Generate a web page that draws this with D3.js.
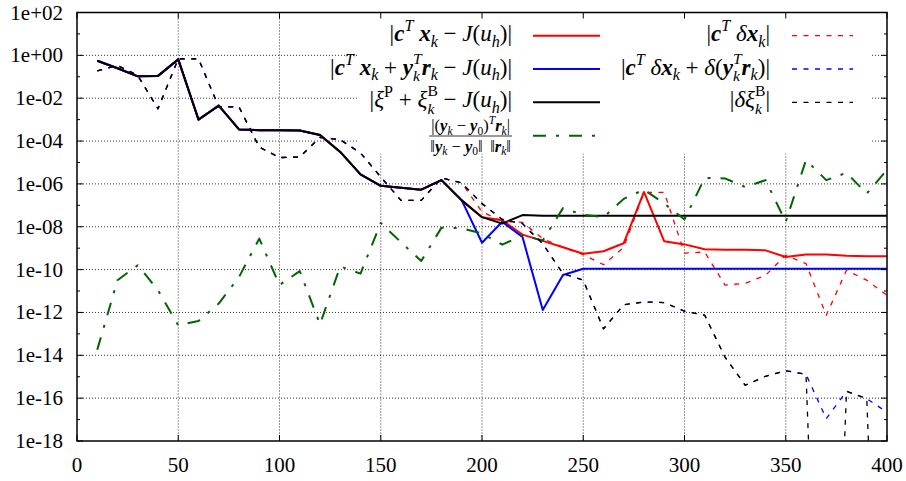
<!DOCTYPE html>
<html>
<head>
<meta charset="utf-8">
<script src="https://cdn.jsdelivr.net/npm/d3@7"></script>
<style>
    body { margin: 0; background: #fff; }
    text { font-family: "Liberation Serif", "Times New Roman", serif; fill: #000; }
</style>
</head>
<body>
<svg id="chart" width="906" height="481"></svg>
<script>
// iteraciones (eje x)
const iterations = [10, 20, 30, 40, 50, 60, 70, 80, 90, 100, 110, 120, 130, 140, 150, 160, 170, 180, 190, 200,
    210, 220, 230, 240, 250, 260, 270, 280, 290, 300, 310, 320, 330, 340, 350, 360, 370, 380, 390, 400];

// |xi^P + xi^B_k - J(u_h)|  (negro continuo)
const xiErr = [5.6e-1, 2.5e-1, 1.05e-1, 1.1e-1, 6.5e-1, 1.0e-3, 4.5e-3, 3.5e-4, 3.2e-4, 3.2e-4,
    3.1e-4, 1.9e-4, 3.1e-5, 2.8e-6, 8.1e-7, 6.6e-7, 5.4e-7, 1.5e-6, 1.7e-7, 2.8e-8,
    1.4e-8, 3.5e-8, 3.3e-8, 3.3e-8, 3.3e-8, 3.3e-8, 3.3e-8, 3.3e-8, 3.3e-8, 3.3e-8,
    3.3e-8, 3.3e-8, 3.3e-8, 3.3e-8, 3.3e-8, 3.3e-8, 3.3e-8, 3.3e-8, 3.3e-8, 3.3e-8];

// |c^T x_k - J(u_h)|  (rojo continuo), igual al negro hasta 180
const cxErr = xiErr.slice(0, 18).concat([1.7e-7, 2.8e-8, 2.0e-8, 4.3e-9, 2.2e-9, 1.1e-9, 5.5e-10, 7.2e-10, 1.7e-9, 4.2e-7,
    2.1e-9, 1.5e-9, 8.9e-10, 8.5e-10, 8.5e-10, 7.9e-10, 3.9e-10, 5.1e-10, 5.1e-10, 4.4e-10, 4.2e-10, 4.2e-10]);

// |c^T x_k + y_k^T r_k - J(u_h)|  (azul continuo)
const cxyErr = xiErr.slice(0, 18).concat([1.7e-7, 1.8e-9, 1.7e-8, 3.3e-9, 1.3e-12, 5.6e-11,
    1.1e-10, 1.1e-10, 1.1e-10, 1.1e-10, 1.1e-10, 1.1e-10, 1.1e-10, 1.1e-10, 1.1e-10, 1.1e-10,
    1.1e-10, 1.1e-10, 1.1e-10, 1.1e-10, 1.1e-10, 1.1e-10]);

// |(y_k-y_0)^T r_k| / (||y_k-y_0|| ||r_k||)  (verde punto-raya)
const ratio = [1.8e-14, 3.2e-11, 1.6e-10, 1.1e-11, 2.5e-13, 4e-13, 2.6e-12, 4.5e-11, 2.8e-9, 1.9e-11,
    8.5e-11, 2.8e-13, 1.4e-10, 6.5e-11, 1.5e-8, 1.9e-9, 2.5e-10, 9.1e-9, 8.5e-9, 4.8e-9,
    1.45e-9, 4e-9, 2.3e-9, 7.4e-8, 3.6e-8, 2.8e-8, 2.0e-7, 5.4e-7, 1.2e-7, 2.2e-8,
    1.9e-6, 1.8e-6, 7.1e-7, 1.5e-6, 1.7e-8, 1.3e-5, 1.5e-6, 3.3e-6, 3.5e-7, 4.6e-6];

// |delta xi^B_k|  (negro discontinuo); 1e-40 = practicamente cero
const dXi = [1.9e-1, 3.4e-1, 1.15e-1, 3.2e-3, 6.9e-1, 6.9e-1, 3.9e-3, 3.9e-3, 5.2e-5, 1.7e-5,
    1.8e-5, 1.5e-4, 1.15e-4, 2.8e-5, 2.1e-6, 1.7e-7, 1.7e-7, 1.9e-6, 1.1e-6, 1.2e-7,
    2.2e-8, 1.4e-8, 1.6e-9, 6.5e-11, 3.2e-11, 1.7e-13, 2.3e-12, 3.1e-12, 2.9e-12, 1.15e-12,
    7.4e-13, 8.3e-15, 4.0e-16, 1.05e-15, 1.9e-15, 1.3e-15, 1e-40, 2.1e-16, 9.5e-17, 1e-40];

// |c^T delta x_k|  (rojo discontinuo)
const cdx = dXi.slice(0, 19).concat([5e-8, 1.8e-8, 1.6e-8, 2.8e-9, 1.1e-9, 5e-10, 1.7e-10, 1.1e-9, 4e-7, 4e-7,
    5.9e-10, 6.6e-10, 1.9e-11, 2.3e-11, 5.4e-11, 4.7e-10, 1.9e-10, 7.4e-13, 9.3e-11, 3.2e-11, 6.3e-12]);

// |c^T delta x_k + delta(y_k^T r_k)|  (azul discontinuo)
const cdxy = dXi.slice(0, 35).concat([1.3e-15, 1.1e-17, 2.1e-16, 9.5e-17, 2.2e-17]);

// ticks
const xTicks = [0, 50, 100, 150, 200, 250, 300, 350, 400];
const yTicks = [1e-18, 1e-16, 1e-14, 1e-12, 1e-10, 1e-8, 1e-6, 1e-4, 1e-2, 1e0, 1e2];
const yTickLabels = ['1e-18', '1e-16', '1e-14', '1e-12', '1e-10', '1e-08', '1e-06', '1e-04', '1e-02', '1e+00', '1e+02'];
const yMinor = [1e-17, 1e-15, 1e-13, 1e-11, 1e-9, 1e-7, 1e-5, 1e-3, 1e-1, 1e1];

const svg = d3.select('#chart');
const L = 77, R = 887, T = 12.5, B = 441;
const x = d3.scaleLinear().domain([0, 400]).range([L, R]);
const y = d3.scaleLog().domain([1e-18, 1e2]).range([B, T]);

// Grid punteado
const grid = svg.append('g').attr('stroke', '#000').attr('stroke-width', 0.8).attr('stroke-dasharray', '1,2');
grid.selectAll('line.gx').data(xTicks.slice(1, -1)).enter().append('line')
    .attr('x1', d => x(d)).attr('x2', d => x(d)).attr('y1', T).attr('y2', B);
grid.selectAll('line.gy').data(yTicks.slice(1, -1)).enter().append('line')
    .attr('x1', L).attr('x2', R).attr('y1', d => y(d)).attr('y2', d => y(d));

// Series
const SOLID = null, DASH = '5,6.5', DASHDOT = '13,10,3,10';
const series = [
    { name: 'cx', values: cxErr, color: '#ff0000', dash: SOLID, w: 2 },
    { name: 'cxy', values: cxyErr, color: '#0000ff', dash: SOLID, w: 2 },
    { name: 'xi', values: xiErr, color: '#000000', dash: SOLID, w: 2 },
    { name: 'ratio', values: ratio, color: '#006400', dash: DASHDOT, w: 2 },
    { name: 'cdx', values: cdx, color: '#ff0000', dash: DASH, w: 1.3 },
    { name: 'cdxy', values: cdxy, color: '#0000ff', dash: DASH, w: 1.3 },
    { name: 'dxi', values: dXi, color: '#000000', dash: DASH, w: 1.3 }
];

svg.append('clipPath').attr('id', 'clip').append('rect')
    .attr('x', L).attr('y', T).attr('width', R - L).attr('height', B - T);

const line = d3.line().x(d => x(d[0])).y(d => y(d[1]));
svg.append('g').attr('clip-path', 'url(#clip)')
    .selectAll('path').data(series).enter().append('path')
    .attr('d', s => line(iterations.map((it, i) => [it, s.values[i]])))
    .attr('fill', 'none')
    .attr('stroke', s => s.color)
    .attr('stroke-width', s => s.w)
    .attr('stroke-dasharray', s => s.dash)
    .attr('stroke-linejoin', 'round');

// Leyenda (opaca)
svg.append('rect').attr('x', 357).attr('y', T + 1).attr('width', 514).attr('height', 140).attr('fill', '#fff');

function addPiece(g, piece, x0, dy, fs) {
    const [t, st] = piece;
    const el = g.append('text')
        .attr('x', x0).attr('y', dy)
        .attr('font-size', fs)
        .attr('font-style', st === 'r' ? 'normal' : 'italic')
        .attr('font-weight', st === 'b' ? 'bold' : 'normal')
        .text(t);
    return el.node().getComputedTextLength();
}

// texto matemático: piezas en línea, sub/superíndices y pares apilados
function mathText(g, tokens, size) {
    let cx = 0;
    tokens.forEach(tk => {
        if (tk.stack) {
            const a = addPiece(g, tk.stack[0], cx, -0.46 * size, size * 0.68);
            const b = addPiece(g, tk.stack[1], cx, 0.3 * size, size * 0.68);
            cx += Math.max(a, b);
        } else {
            const pos = tk[2];
            const fs = pos ? size * 0.7 : size;
            const dy = pos === 'sup' ? -0.42 * size : pos === 'sub' ? 0.24 * size : 0;
            cx += addPiece(g, tk, cx, dy, fs);
        }
    });
    return cx;
}

const NB = '\u00a0';
const minus = ['\u00a0\u2212\u00a0', 'r'], plus = ['\u00a0+\u00a0', 'r'], bar = ['|', 'r'];
const Juh = [['J', 'i'], ['(', 'r'], ['u', 'i'], ['h', 'i', 'sub'], [')', 'r'], bar];

const legendLeft = [
    { tokens: [bar, ['c', 'b'], ['T', 'i', 'sup'], [NB, 'r'], ['x', 'b'], ['k', 'i', 'sub'], minus].concat(Juh), s: series[0] },
    { tokens: [bar, ['c', 'b'], ['T', 'i', 'sup'], [NB, 'r'], ['x', 'b'], ['k', 'i', 'sub'], plus, ['y', 'b'],
        { stack: [['T', 'i'], ['k', 'i']] }, ['r', 'b'], ['k', 'i', 'sub'], minus].concat(Juh), s: series[1] },
    { tokens: [bar, ['\u03be', 'i'], ['P', 'r', 'sup'], plus, ['\u03be', 'i'], { stack: [['B', 'r'], ['k', 'i']] }, minus].concat(Juh), s: series[2] }
];
const legendRight = [
    { tokens: [bar, ['c', 'b'], ['T', 'i', 'sup'], [NB, 'r'], ['\u03b4', 'i'], ['x', 'b'], ['k', 'i', 'sub'], bar], s: series[4] },
    { tokens: [bar, ['c', 'b'], ['T', 'i', 'sup'], [NB, 'r'], ['\u03b4', 'i'], ['x', 'b'], ['k', 'i', 'sub'], plus, ['\u03b4', 'i'], ['(', 'r'],
        ['y', 'b'], { stack: [['T', 'i'], ['k', 'i']] }, ['r', 'b'], ['k', 'i', 'sub'], [')', 'r'], bar], s: series[5] },
    { tokens: [bar, ['\u03b4', 'i'], ['\u03be', 'i'], { stack: [['B', 'r'], ['k', 'i']] }, bar], s: series[6] }
];
const rowBase = [41, 74.5, 107];
const rowMid = [35.7, 69, 102.3, 135.7];

const legend = svg.append('g');
function drawColumn(entries, textRight, sx1, sx2) {
    entries.forEach((e, i) => {
        const g = legend.append('g');
        const w = mathText(g, e.tokens, 23);
        g.attr('transform', `translate(${textRight - w},${rowBase[i]})`);
        legend.append('line')
            .attr('x1', sx1).attr('x2', sx2).attr('y1', rowMid[i]).attr('y2', rowMid[i])
            .attr('stroke', e.s.color).attr('stroke-width', e.s.w)
            .attr('stroke-dasharray', e.s.dash);
    });
}
drawColumn(legendLeft, 512, 533, 600);
drawColumn(legendRight, 770, 792, 853);

// Fracción
const fMinus = ['\u00a0\u2212\u00a0', 'r'];
const num = legend.append('g');
const wn = mathText(num, [bar, ['(', 'r'], ['y', 'b'], ['k', 'i', 'sub'], fMinus, ['y', 'b'], ['0', 'r', 'sub'], [')', 'r'],
    ['T', 'i', 'sup'], ['r', 'b'], ['k', 'i', 'sub'], bar], 16.5);
const den = legend.append('g');
const wd = mathText(den, [['\u2016', 'r'], ['y', 'b'], ['k', 'i', 'sub'], fMinus, ['y', 'b'], ['0', 'r', 'sub'], ['\u2016', 'r'],
    ['\u00a0\u2009', 'r'], ['\u2016', 'r'], ['r', 'b'], ['k', 'i', 'sub'], ['\u2016', 'r']], 16.5);
const barW = Math.max(wn, wd) + 2;
const fc = 512 - barW / 2;
num.attr('transform', `translate(${fc - wn / 2},131)`);
den.attr('transform', `translate(${fc - wd / 2},151.5)`);
legend.append('line').attr('x1', fc - barW / 2).attr('x2', fc + barW / 2)
    .attr('y1', 136).attr('y2', 136).attr('stroke', '#000').attr('stroke-width', 0.8);
legend.append('line')
    .attr('x1', 533).attr('x2', 600).attr('y1', rowMid[3]).attr('y2', rowMid[3])
    .attr('stroke', series[3].color).attr('stroke-width', series[3].w)
    .attr('stroke-dasharray', series[3].dash);

// Marco y ticks
const axes = svg.append('g').attr('stroke', '#000');
axes.append('rect').attr('x', L).attr('y', T).attr('width', R - L).attr('height', B - T)
    .attr('fill', 'none').attr('stroke-width', 1.5);
xTicks.forEach(t => {
    axes.append('line').attr('x1', x(t)).attr('x2', x(t)).attr('y1', B).attr('y2', B - 6).attr('stroke-width', 1);
    axes.append('line').attr('x1', x(t)).attr('x2', x(t)).attr('y1', T).attr('y2', T + 6).attr('stroke-width', 1);
});
yTicks.forEach(t => {
    axes.append('line').attr('x1', L).attr('x2', L + 6).attr('y1', y(t)).attr('y2', y(t)).attr('stroke-width', 1);
    axes.append('line').attr('x1', R).attr('x2', R - 6).attr('y1', y(t)).attr('y2', y(t)).attr('stroke-width', 1);
});
yMinor.forEach(t => {
    axes.append('line').attr('x1', L).attr('x2', L + 3).attr('y1', y(t)).attr('y2', y(t)).attr('stroke-width', 1);
    axes.append('line').attr('x1', R).attr('x2', R - 3).attr('y1', y(t)).attr('y2', y(t)).attr('stroke-width', 1);
});

// Etiquetas
svg.append('g').selectAll('text').data(xTicks).enter().append('text')
    .attr('x', d => x(d)).attr('y', 472).attr('text-anchor', 'middle').attr('font-size', 21)
    .text(d => d);
svg.append('g').selectAll('text').data(yTicks).enter().append('text')
    .attr('x', 63).attr('y', d => y(d) + 7).attr('text-anchor', 'end').attr('font-size', 21)
    .text((d, i) => yTickLabels[i]);
</script>
</body>
</html>
